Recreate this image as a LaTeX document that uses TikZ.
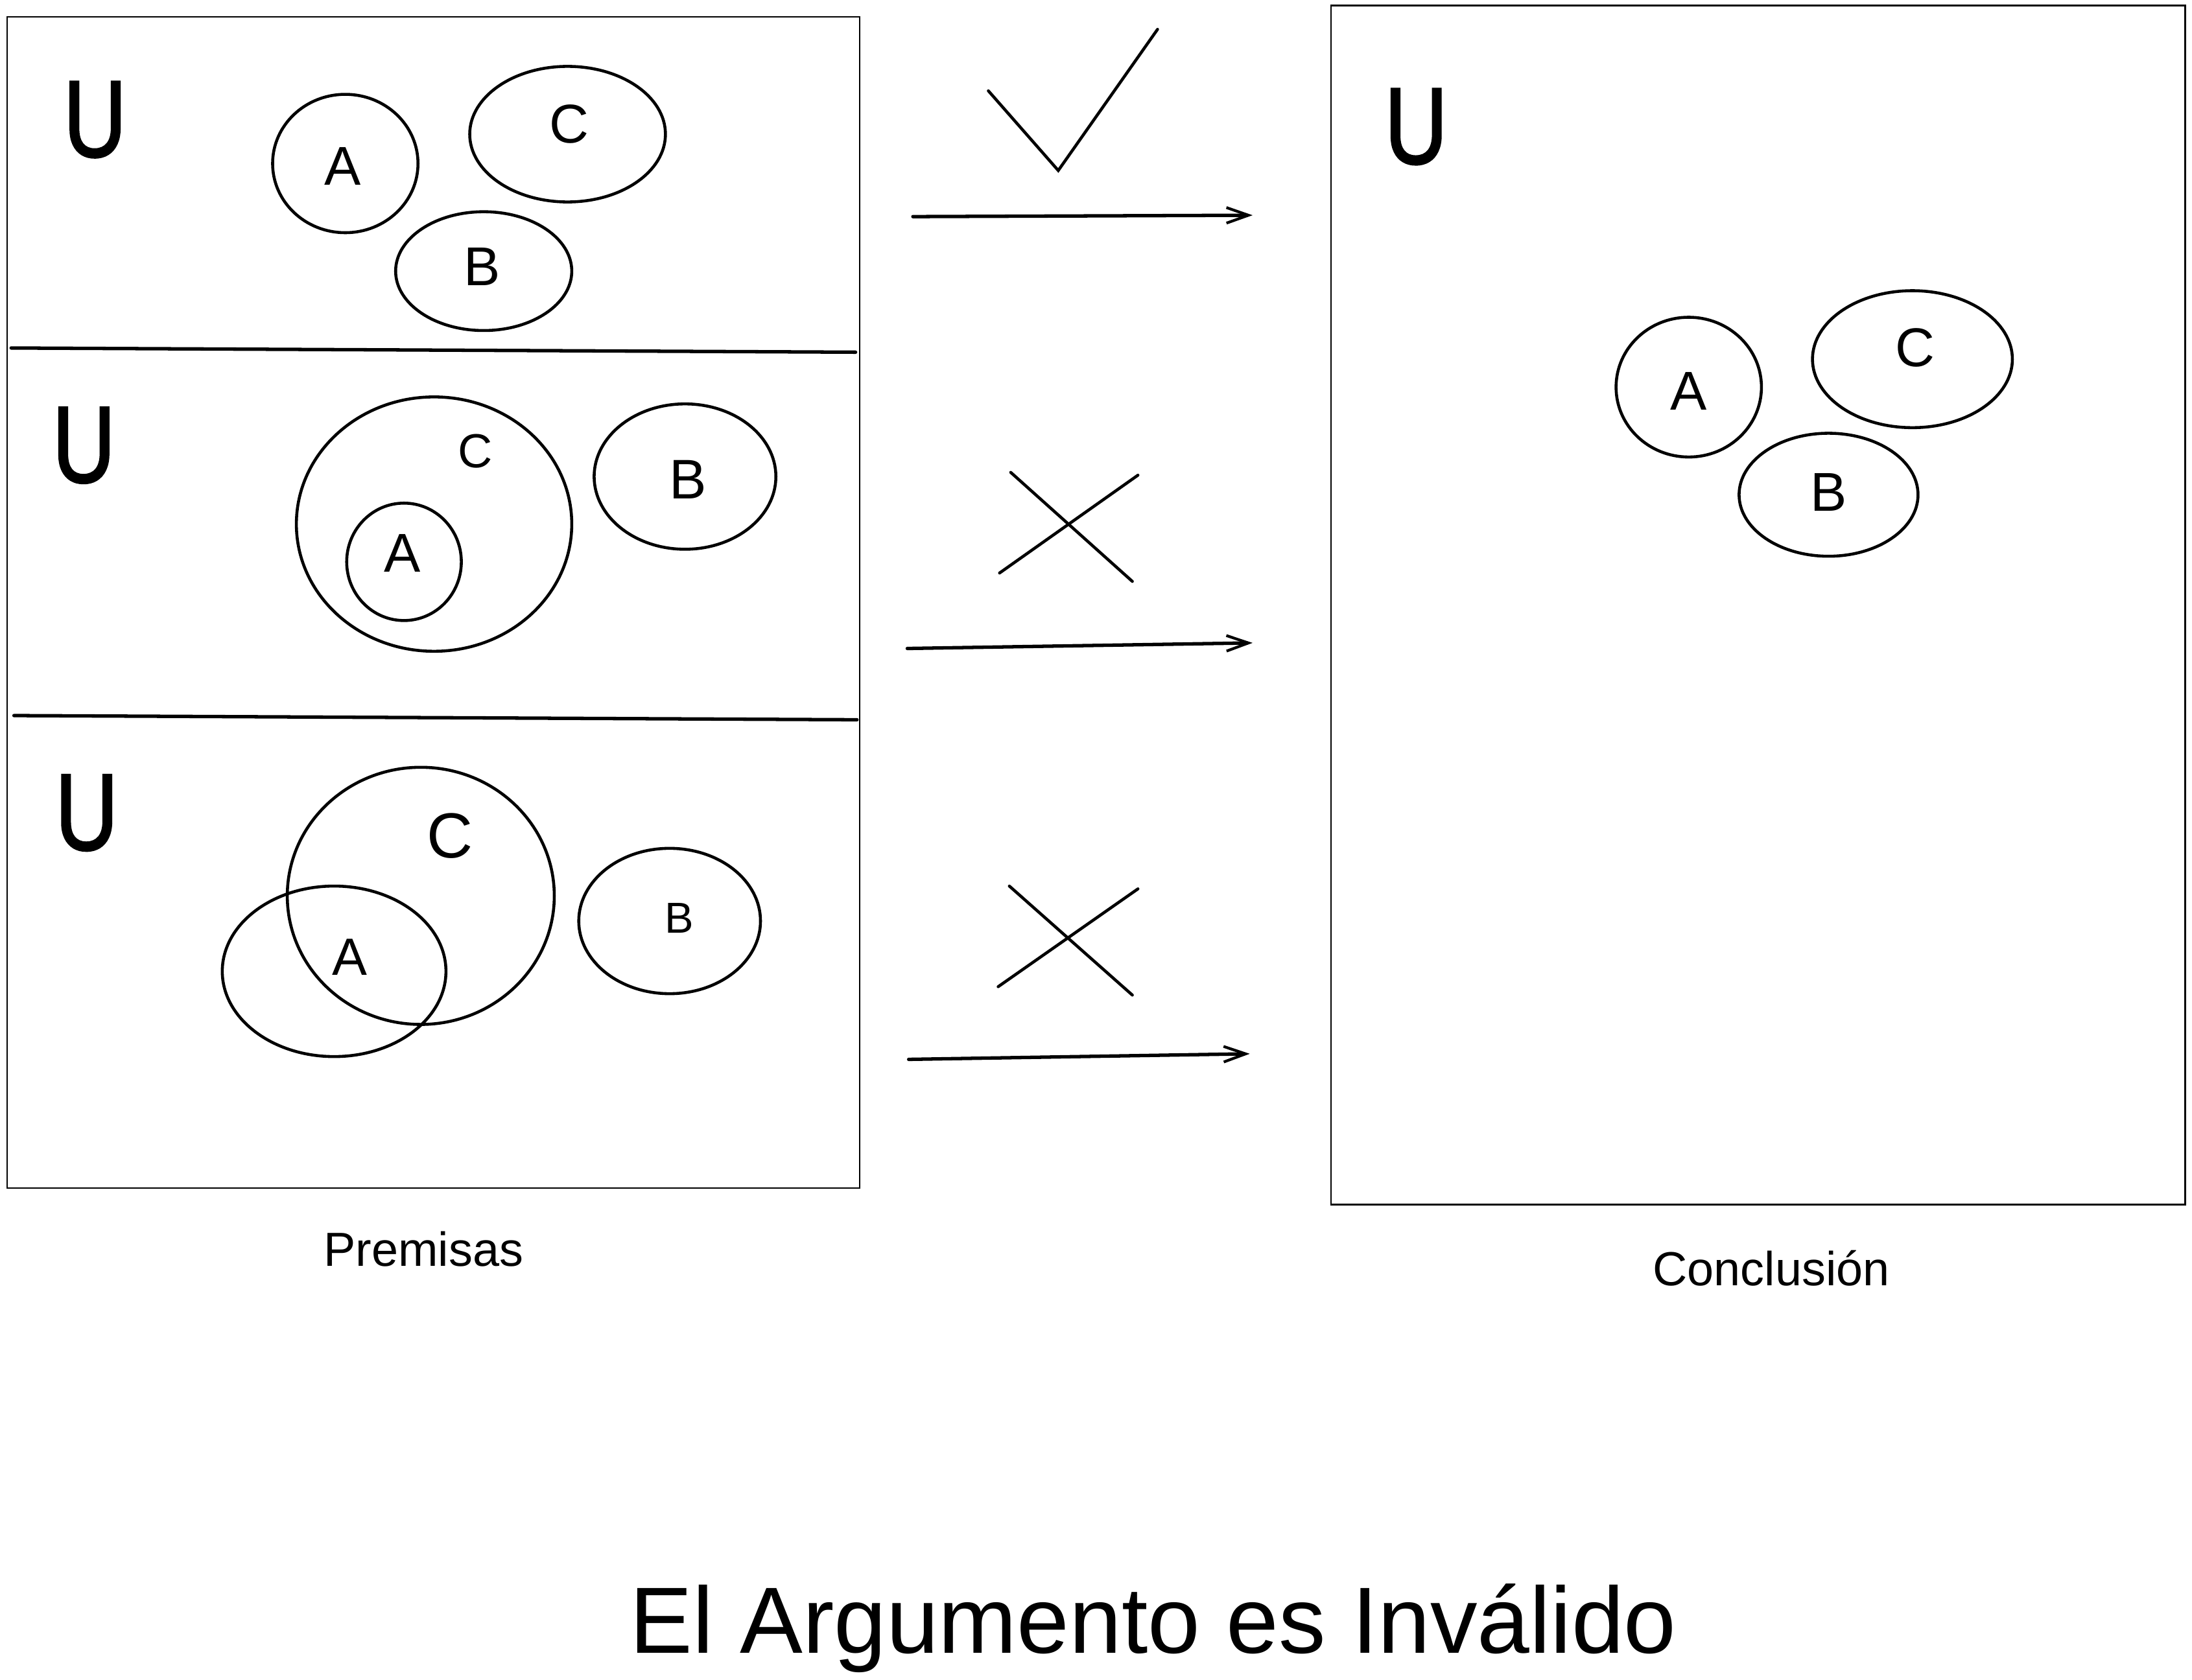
\documentclass[tikz,border=0pt]{standalone}
\usepackage{fontspec}
\setmainfont{Liberation Sans}
\newfontfamily\ufont[FakeBold=2]{Liberation Sans}
\usepackage{graphicx}
\usetikzlibrary{arrows.meta}
\begin{document}
\begin{tikzpicture}[x=0.021563cm,y=-0.021563cm,
  frame/.style={line width=0.7pt},
  divider/.style={line width=1.5pt, line cap=round},
  setline/.style={line width=1.3pt},
  markline/.style={line width=1.3pt, line cap=round},
  flow/.style={line width=1.5pt, line cap=round, -{Straight Barb[length=3.4mm,width=2.4mm,line width=1.2pt]}},
  lbl/.style={inner sep=0pt, font=\fontsize{24}{28}\selectfont},
  uni/.style={inner sep=0pt, anchor=base, font=\ufont\fontsize{47.7}{50}\selectfont},
  captext/.style={inner sep=0pt, anchor=base, font=\fontsize{21}{25}\selectfont},
  titletext/.style={inner sep=0pt, anchor=base, font=\fontsize{41.3}{45}\selectfont}
]
\useasboundingbox[fill=white] (0,0) rectangle (1568,1202);

% ---- frames
\draw[frame] (5,12) rectangle (615,850);
\draw[frame] (952,4) rectangle (1563,862);
\draw[divider] (8,249) -- (612,252);
\draw[divider] (10,512) -- (613,515);

% ---- panel 1
\node[uni] (u1) at (68,112) {\scalebox{0.8}[1]{U}};
\draw[setline] (247,117) ellipse [x radius=52, y radius=49.5];
\draw[setline] (406,96) ellipse [x radius=70, y radius=48.5];
\draw[setline] (346,194) ellipse [x radius=63, y radius=42.5];
\node[lbl] (p1a) at (245,119) {A};
\node[lbl] (p1c) at (407,89) {C};
\node[lbl] (p1b) at (345,191) {B};

% ---- panel 2
\node[uni] (u2) at (60,345) {\scalebox{0.8}[1]{U}};
\draw[setline] (310.5,375) ellipse [x radius=98.5, y radius=91];
\draw[setline] (289,402) ellipse [x radius=41, y radius=42];
\draw[setline] (490,341) ellipse [x radius=65, y radius=52];
\node[lbl, font=\fontsize{21}{25}\selectfont] (p2c) at (340,323) {C};
\node[lbl] (p2a) at (288,396) {A};
\node[lbl, font=\fontsize{24.5}{28}\selectfont] (p2b) at (492,343) {B};

% ---- panel 3
\node[uni] (u3) at (62,608) {\scalebox{0.8}[1]{U}};
\draw[setline] (301,641) ellipse [x radius=95.5, y radius=92];
\draw[setline] (239,695) ellipse [x radius=80, y radius=61];
\draw[setline] (479,659) ellipse [x radius=65, y radius=52];
\node[lbl, font=\fontsize{28}{32}\selectfont] (p3c) at (322,598) {C};
\node[lbl, font=\fontsize{23}{27}\selectfont] (p3a) at (250,685) {A};
\node[lbl, font=\fontsize{19}{23}\selectfont] (p3b) at (486,657) {B};

% ---- conclusion panel
\node[uni] (u4) at (1013,117) {\scalebox{0.8}[1]{U}};
\draw[setline] (1208,277) ellipse [x radius=52, y radius=50];
\draw[setline] (1368,257) ellipse [x radius=71.5, y radius=49];
\draw[setline] (1308,354) ellipse [x radius=64, y radius=44];
\node[lbl] (ca) at (1208,280) {A};
\node[lbl] (cc) at (1370,249) {C};
\node[lbl] (cb) at (1308,352) {B};

% ---- check and crosses
\coordinate (k1) at (707,65);
\coordinate (k2) at (757,122);
\coordinate (k3) at (828,21);
\draw[markline] (k1) -- (k2) -- (k3);

\coordinate (x1a) at (723,338); \coordinate (x1b) at (810,416);
\coordinate (x1c) at (715,410); \coordinate (x1d) at (814,340);
\draw[markline] (x1a) -- (x1b);
\draw[markline] (x1c) -- (x1d);

\coordinate (x2a) at (722,634); \coordinate (x2b) at (810,712);
\coordinate (x2c) at (714,706); \coordinate (x2d) at (814,636);
\draw[markline] (x2a) -- (x2b);
\draw[markline] (x2c) -- (x2d);

% ---- arrows
\coordinate (a1s) at (653,155); \coordinate (a1e) at (896,154);
\coordinate (a2s) at (649,464); \coordinate (a2e) at (896,460);
\coordinate (a3s) at (650,758); \coordinate (a3e) at (894,754);
\draw[flow] (a1s) -- (a1e);
\draw[flow] (a2s) -- (a2e);
\draw[flow] (a3s) -- (a3e);

% ---- captions
\node[captext] (prem) at (303,906) {Premisas};
\node[captext] (concl) at (1267,920) {Conclusión};
\node[titletext] (title) at (825,1183) {El Argumento es Inválido};
\end{tikzpicture}
\end{document}
